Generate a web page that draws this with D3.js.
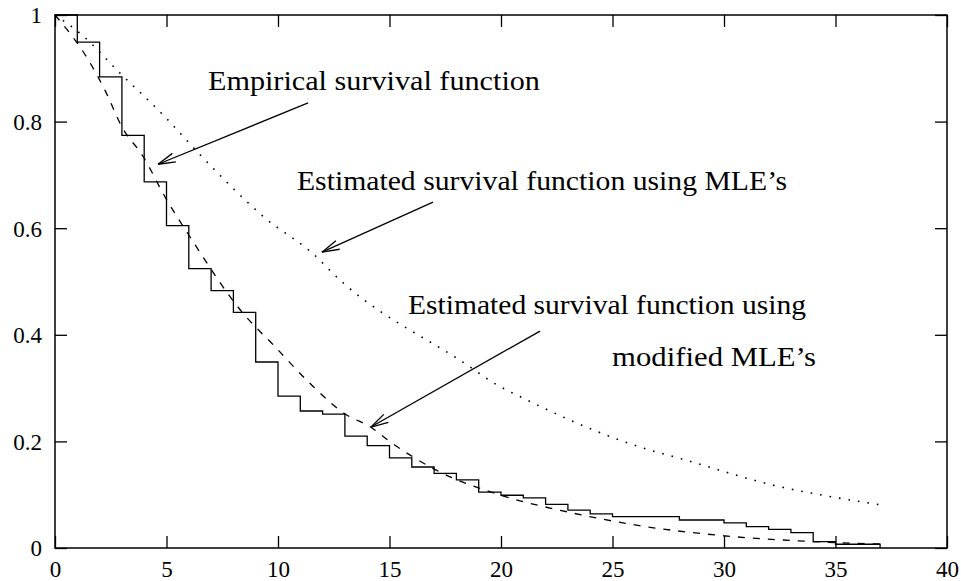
<!DOCTYPE html>
<html>
<head>
<meta charset="utf-8">
<script src="https://cdn.jsdelivr.net/npm/d3@7"></script>
<style>
  body { margin: 0; background: #fff; }
  svg text { font-family: "Liberation Serif", "Times New Roman", serif; fill: #000; }
</style>
</head>
<body>
<svg id="chart"></svg>
<script>
// empirical survival function: step values [t, S(t)]
var empiricalT = [0, 1, 2, 3, 4, 5, 6, 7, 8, 9, 10, 11, 12, 13, 14, 15, 16, 17, 18, 19, 20, 21, 22, 23, 24, 25, 28, 30, 31, 32, 33, 34, 35, 37];
var empiricalS = [1, 0.949, 0.884, 0.774, 0.687, 0.605, 0.524, 0.483, 0.442, 0.349, 0.285, 0.257, 0.251, 0.210, 0.192, 0.169, 0.152, 0.140, 0.128, 0.105, 0.099, 0.094, 0.082, 0.071, 0.064, 0.059, 0.0525, 0.047, 0.040, 0.035, 0.029, 0.012, 0.007, 0];

// estimated survival function using MLE's (dotted)
var mleT = [0, 1.2, 2.84, 4.93, 6.5, 9.34, 11.88, 12.18, 18.6, 19.58, 21.15, 26.5, 28.03, 32.2, 36.1, 37];
var mleS = [1, 0.963, 0.894, 0.809, 0.738, 0.622, 0.54, 0.527, 0.34, 0.312, 0.278, 0.186, 0.168, 0.118, 0.087, 0.081];

// estimated survival function using modified MLE's (dashed)
var modT = [0, 1.49, 2.24, 3, 3.96, 4.93, 6.05, 8.44, 9.79, 11.43, 13.08, 14.13, 15.02, 17.1, 19.96, 22.95, 26.2, 29.97, 33.7, 37];
var modS = [1, 0.916, 0.859, 0.79, 0.734, 0.659, 0.584, 0.44, 0.381, 0.309, 0.2495, 0.2276, 0.1995, 0.146, 0.0994, 0.068, 0.042, 0.023, 0.0126, 0.0075];

var xTicks = [0, 5, 10, 15, 20, 25, 30, 35, 40];
var yTicks = [0, 0.2, 0.4, 0.6, 0.8, 1];

// labels with arrows, placed in data units (w = printed width in px)
var notes = [
  { text: "Empirical survival function", tx: 6.86, ty: 0.859, w: 332, from: [11.35, 0.835], to: [4.62, 0.720] },
  { text: "Estimated survival function using MLE\u2019s", tx: 10.85, ty: 0.672, w: 490, from: [16.95, 0.649], to: [11.97, 0.555] },
  { text: "Estimated survival function using", tx: 15.83, ty: 0.439, w: 398, from: [21.75, 0.407], to: [14.17, 0.227] },
  { text: "modified MLE\u2019s", tx: 24.98, ty: 0.341, w: 204 }
];

var W = 961, H = 581;
var pL = 55, pR = 947, pT = 15, pB = 548;

var svg = d3.select('#chart').attr('width', W).attr('height', H);

var x = d3.scaleLinear().domain([0, 40]).range([pL, pR]);
var y = d3.scaleLinear().domain([0, 1]).range([pB, pT]);

var zip = function(a, b) { return a.map(function(v, i) { return [v, b[i]]; }); };

// frame
svg.append('rect')
  .attr('x', pL).attr('y', pT)
  .attr('width', pR - pL).attr('height', pB - pT)
  .attr('fill', 'none').attr('stroke', '#000').attr('stroke-width', 1.5);

var tickLen = 12;
var fmt = function(d) { return d3.format('~g')(d); };

// axes (inward ticks, mirrored on top / right)
var bottomAxis = svg.append('g').attr('transform', 'translate(0,' + pB + ')')
  .call(d3.axisBottom(x).tickValues(xTicks).tickFormat(fmt).tickSizeInner(-tickLen).tickSizeOuter(0).tickPadding(29));
var leftAxis = svg.append('g').attr('transform', 'translate(' + pL + ',0)')
  .call(d3.axisLeft(y).tickValues(yTicks).tickFormat(fmt).tickSizeInner(-tickLen).tickSizeOuter(0).tickPadding(13));
var topAxis = svg.append('g').attr('transform', 'translate(0,' + pT + ')')
  .call(d3.axisTop(x).tickValues(xTicks).tickFormat('').tickSizeInner(-tickLen).tickSizeOuter(0));
var rightAxis = svg.append('g').attr('transform', 'translate(' + pR + ',0)')
  .call(d3.axisRight(y).tickValues(yTicks).tickFormat('').tickSizeInner(-tickLen).tickSizeOuter(0));

[bottomAxis, leftAxis, topAxis, rightAxis].forEach(function(g) {
  g.select('.domain').remove();
  g.selectAll('line').attr('stroke', '#000').attr('stroke-width', 1.3);
  g.selectAll('text').attr('font-size', 23).attr('font-family', '"Liberation Serif", serif');
});
bottomAxis.selectAll('text').attr('dy', '0');
leftAxis.selectAll('text').attr('dy', '0.34em');

// curves
var line = d3.line().x(function(d) { return x(d[0]); }).y(function(d) { return y(d[1]); });

svg.append('path')
  .datum(zip(mleT, mleS))
  .attr('d', line.curve(d3.curveMonotoneX))
  .attr('fill', 'none').attr('stroke', '#000').attr('stroke-width', 1.6)
  .attr('stroke-dasharray', '1.6,8');

svg.append('path')
  .datum(zip(modT, modS))
  .attr('d', line.curve(d3.curveMonotoneX))
  .attr('fill', 'none').attr('stroke', '#000').attr('stroke-width', 1.3)
  .attr('stroke-dasharray', '7,8');

svg.append('path')
  .datum(zip(empiricalT, empiricalS))
  .attr('d', line.curve(d3.curveStepAfter))
  .attr('fill', 'none').attr('stroke', '#000').attr('stroke-width', 1.3);

// annotations
var arrowHead = function(g, x1, y1, x2, y2) {
  var a = Math.atan2(y1 - y2, x1 - x2), len = 18, spread = 0.26;
  [a - spread, a + spread].forEach(function(b) {
    g.append('line')
      .attr('x1', x2).attr('y1', y2)
      .attr('x2', x2 + len * Math.cos(b)).attr('y2', y2 + len * Math.sin(b))
      .attr('stroke', '#000').attr('stroke-width', 1.3);
  });
};

notes.forEach(function(n) {
  svg.append('text')
    .attr('x', x(n.tx)).attr('y', y(n.ty))
    .attr('font-size', 27)
    .attr('textLength', n.w)
    .attr('lengthAdjust', 'spacingAndGlyphs')
    .text(n.text);
  if (n.from) {
    var g = svg.append('g');
    var x1 = x(n.from[0]), y1 = y(n.from[1]), x2 = x(n.to[0]), y2 = y(n.to[1]);
    g.append('line')
      .attr('x1', x1).attr('y1', y1).attr('x2', x2).attr('y2', y2)
      .attr('stroke', '#000').attr('stroke-width', 1.3);
    arrowHead(g, x1, y1, x2, y2);
  }
});
</script>
</body>
</html>
